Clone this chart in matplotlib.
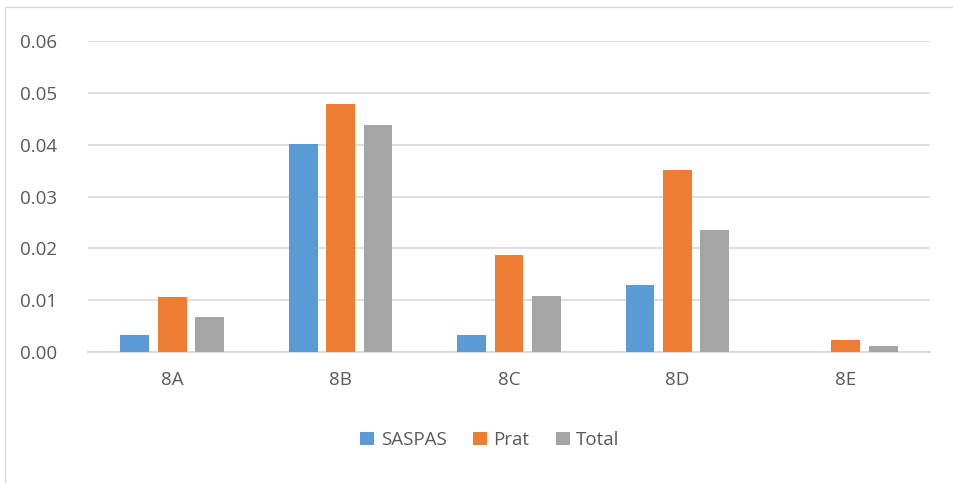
import numpy as np
import matplotlib
matplotlib.use("Agg")
import matplotlib.pyplot as plt
from matplotlib.patches import Rectangle

categories = ["8A", "8B", "8C", "8D", "8E"]
saspas = [0.0033, 0.0402, 0.0033, 0.0129, 0.0]
prat = [0.0106, 0.0479, 0.0187, 0.0351, 0.0023]
total = [0.0068, 0.0438, 0.0108, 0.0236, 0.0012]
yticks = [0.0, 0.01, 0.02, 0.03, 0.04, 0.05, 0.06]

plt.rcParams['font.family'] = ['Open Sans', 'DejaVu Sans']
txt = '#595959'

fig = plt.figure(figsize=(9.54, 4.83), dpi=100)
# chart frame on left and top
fig.patches.append(Rectangle((5 / 954, -0.1), 1.2, 1.1 - 7 / 483, transform=fig.transFigure,
                             fill=False, edgecolor='#d9d9d9', linewidth=1.0))

ax = fig.add_axes([88 / 954, 1 - 352 / 483, (930 - 88) / 954, (352 - 41) / 483])

x = np.arange(len(categories))
w = 0.172
step = 0.222
series = [("SASPAS", saspas, '#5B9BD5'), ("Prat", prat, '#ED7D31'), ("Total", total, '#A5A5A5')]
for i, (name, vals, col) in enumerate(series):
    ax.bar(x + (i - 1) * step, vals, width=w, color=col, label=name, zorder=3)

ax.set_xlim(-0.5, len(categories) - 0.5)
ax.set_ylim(0, 0.06)
ax.set_yticks(yticks)
ax.set_yticklabels([f"{v:.2f}" for v in yticks])
ax.set_xticks(x)
ax.set_xticklabels(categories)
ax.grid(axis='y', color='#d9d9d9', linewidth=1.2, zorder=0)
for s in ['top', 'right', 'left']:
    ax.spines[s].set_visible(False)
ax.spines['bottom'].set_color('#d9d9d9')
ax.spines['bottom'].set_linewidth(1.4)
ax.tick_params(length=0, labelsize=13.5, labelcolor=txt)
ax.tick_params(axis='y', pad=22)
ax.tick_params(axis='x', pad=14)

fig.legend(loc='center', bbox_to_anchor=(490 / 954, 1 - 440 / 483), ncol=3, frameon=False,
           fontsize=13.5, labelcolor=txt, handlelength=0.75, handleheight=0.75,
           handletextpad=0.35, columnspacing=1.4)

fig.savefig("out.png", dpi=100)
